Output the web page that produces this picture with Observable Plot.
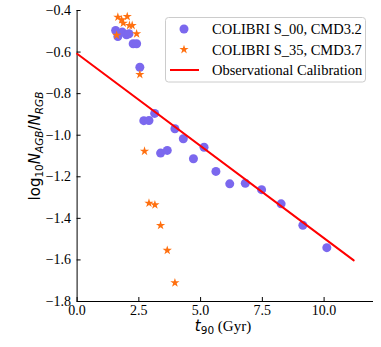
<!DOCTYPE html>
<html>
<head>
<meta charset="utf-8">
<script src="https://cdn.jsdelivr.net/npm/d3@7"></script>
<script src="https://cdn.jsdelivr.net/npm/@observablehq/plot@0.6"></script>
<style>
  html, body { margin: 0; padding: 0; background: #fff; }
  svg { display: block; }
</style>
</head>
<body>
<div id="chart"></div>
<script>
// COLIBRI S_00, CMD3.2
const s00T = [1.56, 1.65, 1.83, 2.00, 2.10, 2.27, 2.41, 2.54, 2.70, 2.91, 3.14, 3.38, 3.65, 3.96, 4.30, 4.71, 5.14, 5.62, 6.18, 6.81, 7.47, 8.26, 9.14, 10.11];
const s00Y = [-0.496, -0.525, -0.504, -0.517, -0.512, -0.560, -0.560, -0.673, -0.930, -0.929, -0.895, -1.086, -1.073, -0.969, -1.017, -1.113, -1.058, -1.174, -1.234, -1.231, -1.262, -1.330, -1.433, -1.541];
// COLIBRI S_35, CMD3.7
const s35T = [1.65, 1.80, 2.03, 1.87, 2.12, 2.23, 2.41, 1.60, 2.54, 2.73, 2.91, 3.15, 3.38, 3.65, 3.96];
const s35Y = [-0.432, -0.445, -0.429, -0.461, -0.472, -0.472, -0.512, -0.519, -0.708, -1.077, -1.327, -1.335, -1.434, -1.554, -1.710];
// Observational Calibration line endpoints
const calT = [0, 11.2];
const calY = [-0.608, -1.602];
// Tick values
const xTicks = [0, 2.5, 5, 7.5, 10];
const yTicks = [-0.4, -0.6, -0.8, -1.0, -1.2, -1.4, -1.6, -1.8];
const legendLabels = ["COLIBRI S_00, CMD3.2", "COLIBRI S_35, CMD3.7", "Observational Calibration"];

const blue = "#7b68ee";
const orange = "#ff7010";
const red = "#ff0000";

const s00 = s00T.map((t, i) => ({t, y: s00Y[i]}));
const s35 = s35T.map((t, i) => ({t, y: s35Y[i]}));
const cal = calT.map((t, i) => ({t, y: calY[i]}));

const serif = "'Liberation Serif', 'Times New Roman', serif";

const plot = Plot.plot({
  width: 381,
  height: 347,
  marginLeft: 76.6,
  marginRight: 8,
  marginTop: 10,
  marginBottom: 46,
  style: {fontFamily: serif, fontSize: "14px", background: "#fff", color: "#000"},
  x: {domain: [0, 12]},
  y: {domain: [-1.8, -0.4]},
  marks: [
    Plot.ruleX([0], {stroke: "#000", strokeWidth: 1}),
    Plot.ruleY([-1.8], {stroke: "#000", strokeWidth: 1}),
    Plot.axisX({ticks: xTicks, tickFormat: d => d.toFixed(1), tickSize: -4, tickPadding: 8, label: null, fontSize: 14}),
    Plot.axisY({ticks: yTicks, tickFormat: d => d.toFixed(1).replace("-", "\u2212"), tickSize: -4, tickPadding: 10, label: null, fontSize: 14}),
    Plot.dot(s00, {x: "t", y: "y", r: 4.5, fill: blue, stroke: "none"}),
    Plot.dot(s35, {x: "t", y: "y", r: 2.9, symbol: "star", fill: orange, stroke: "none"}),
    Plot.line(cal, {x: "t", y: "y", stroke: red, strokeWidth: 2})
  ]
});

document.getElementById("chart").appendChild(plot);

const svg = d3.select(plot);
const sans = "'DejaVu Sans', sans-serif";

// y axis label
const yl = svg.append("text")
  .attr("transform", "translate(40,146) rotate(-90)")
  .attr("text-anchor", "middle")
  .attr("font-family", sans)
  .attr("font-size", 15)
  .attr("fill", "#000");
yl.append("tspan").text("log");
yl.append("tspan").attr("font-size", 10.5).attr("dy", 3).text("10");
yl.append("tspan").attr("font-style", "italic").attr("dy", -3).text("N");
yl.append("tspan").attr("font-style", "italic").attr("font-size", 10.5).attr("dy", 3).text("AGB");
yl.append("tspan").attr("dy", -3).text("/");
yl.append("tspan").attr("font-style", "italic").text("N");
yl.append("tspan").attr("font-style", "italic").attr("font-size", 10.5).attr("dy", 3).text("RGB");

// x axis label
const xl = svg.append("text")
  .attr("x", 223)
  .attr("y", 331)
  .attr("text-anchor", "middle")
  .attr("font-size", 15)
  .attr("fill", "#000");
xl.append("tspan").attr("font-family", sans).attr("font-style", "italic").text("t");
xl.append("tspan").attr("font-family", sans).attr("font-size", 10.5).attr("dy", 3).text("90");
xl.append("tspan").attr("font-family", serif).attr("dy", -3).text(" (Gyr)");

// legend
const lg = svg.append("g");
lg.append("rect")
  .attr("x", 165.5).attr("y", 17.5).attr("width", 200).attr("height", 64.5)
  .attr("rx", 3).attr("fill", "#fff").attr("fill-opacity", 0.8)
  .attr("stroke", "#cccccc").attr("stroke-width", 1);
const rows = [29, 49.5, 70];
lg.append("circle").attr("cx", 184).attr("cy", rows[0]).attr("r", 4.5).attr("fill", blue);
lg.append("path").attr("transform", `translate(184,${rows[1]})`)
  .attr("d", d3.symbol(d3.symbolStar, Math.PI * 2.9 * 2.9)()).attr("fill", orange);
lg.append("line").attr("x1", 170).attr("x2", 199).attr("y1", rows[2]).attr("y2", rows[2])
  .attr("stroke", red).attr("stroke-width", 2);
legendLabels.forEach((s, i) => {
  lg.append("text").attr("x", 212).attr("y", rows[i]).attr("dy", "0.35em")
    .attr("text-anchor", "start")
    .attr("font-family", serif).attr("font-size", 14.5).attr("fill", "#000").text(s);
});
</script>
</body>
</html>
